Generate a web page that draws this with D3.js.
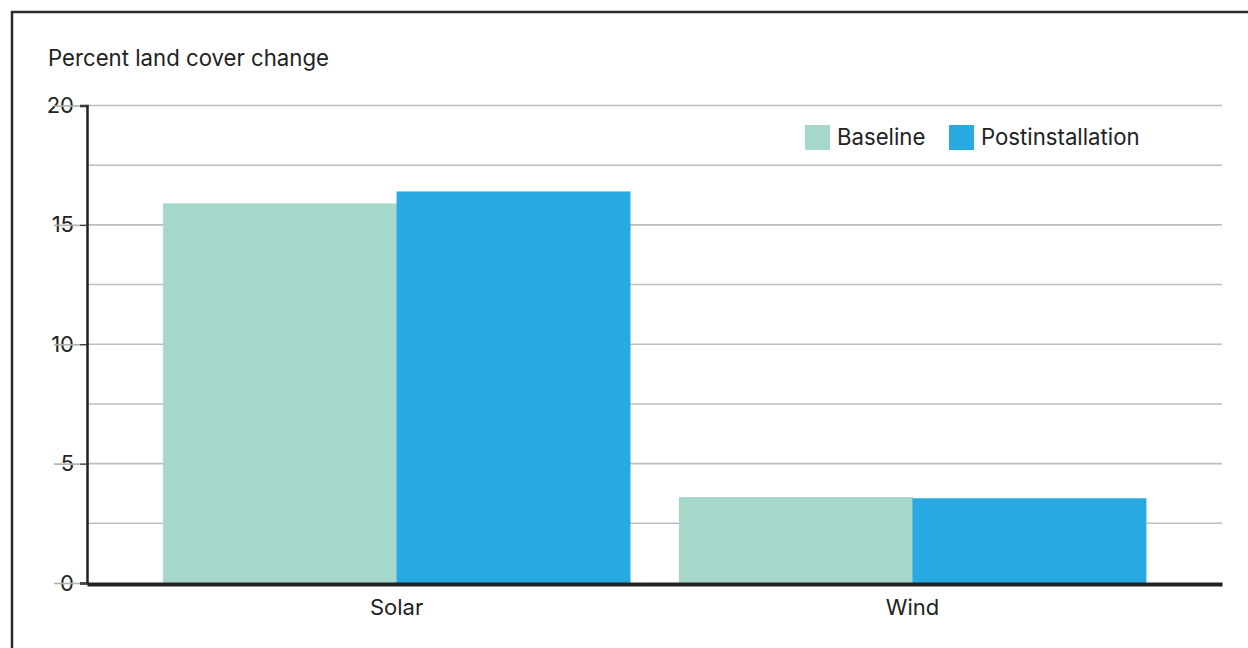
<!DOCTYPE html>
<html>
<head>
<meta charset="utf-8">
<script src="https://cdn.jsdelivr.net/npm/d3@7"></script>
<style>
  html, body { margin: 0; padding: 0; background: #fff; }
  svg { display: block; }
  text { font-family: Inter, "Liberation Sans", Arial, sans-serif; fill: #222; }
</style>
</head>
<body>
<svg id="chart" width="1248" height="648"></svg>
<script>
const categories = ["Solar", "Wind"];
const seriesNames = ["Baseline", "Postinstallation"];
const baselineValues = [15.9, 3.6];
const postValues = [16.4, 3.55];
const yTicks = [0, 5, 10, 15, 20];
const yGridTicks = [0, 2.5, 5, 7.5, 10, 12.5, 15, 17.5, 20];
const yTitle = "Percent land cover change";
const colors = ["#a5d7cb", "#29a9e1"];

(function () {
const svg = d3.select("#chart");
const W = 1248, H = 648;

// frame
svg.append("rect")
  .attr("x", 12).attr("y", 12)
  .attr("width", W).attr("height", H)
  .attr("fill", "none").attr("stroke", "#2b2b2b").attr("stroke-width", 2.5);

const mLeft = 87, mRight = 1222, mTop = 105.5, mBottom = 583;

const x = d3.scaleBand().domain(categories).range([mLeft, mRight])
  .paddingInner(0.095).paddingOuter(0.1475);
const xs = d3.scaleBand().domain(seriesNames).range([0, x.bandwidth()]).padding(0);
const y = d3.scaleLinear().domain([0, 20]).range([mBottom, mTop]);

// gridlines
svg.append("g").selectAll("line").data(yGridTicks.filter(d => d > 0)).join("line")
  .attr("x1", mLeft).attr("x2", mRight)
  .attr("y1", d => y(d)).attr("y2", d => y(d))
  .attr("stroke", "#bdbdbd").attr("stroke-width", 1.6);

// bars
const data = categories.map((c, i) => ({cat: c, vals: [baselineValues[i], postValues[i]]}));
const groups = svg.append("g").selectAll("g").data(data).join("g")
  .attr("transform", d => `translate(${x(d.cat)},0)`);
groups.selectAll("rect").data(d => d.vals.map((v, j) => ({name: seriesNames[j], v, j}))).join("rect")
  .attr("x", d => xs(d.name))
  .attr("width", xs.bandwidth() + 0.5)
  .attr("y", d => y(d.v))
  .attr("height", d => y(0) - y(d.v))
  .attr("fill", d => colors[d.j]);

// y axis
const yAxis = d3.axisLeft(y).tickValues(yTicks).tickSize(7).tickPadding(6).tickFormat(d3.format("d"));
const ya = svg.append("g").attr("transform", `translate(${mLeft},0)`).call(yAxis);
ya.select(".domain").attr("stroke", "#222").attr("stroke-width", 2.5);
ya.selectAll(".tick line").attr("stroke", "#444").attr("stroke-width", 1.5);
ya.selectAll(".tick text").attr("font-size", 22).attr("fill", "#222")
  .style("font-family", "Inter, 'Liberation Sans', Arial, sans-serif");
// gray strike line through tick labels
ya.selectAll(".tick").append("line")
  .attr("x1", -33).attr("x2", -7).attr("y1", 0).attr("y2", 0)
  .attr("stroke", "#b0b0b0").attr("stroke-width", 1.6);

// x axis
const xAxis = d3.axisBottom(x).tickSize(0).tickPadding(15);
const xa = svg.append("g").attr("transform", `translate(0,${mBottom + 1})`).call(xAxis);
xa.select(".domain").attr("stroke", "#222").attr("stroke-width", 4);
xa.selectAll(".tick text").attr("font-size", 22).attr("fill", "#222")
  .style("font-family", "Inter, 'Liberation Sans', Arial, sans-serif");

// title
svg.append("text").attr("x", 48).attr("y", 66).attr("font-size", 22.2).text(yTitle);

// legend
const legend = svg.append("g");
const legendX = [805, 949];
seriesNames.forEach((n, i) => {
  legend.append("rect").attr("x", legendX[i]).attr("y", 125).attr("width", 25).attr("height", 25).attr("fill", colors[i]);
  legend.append("text").attr("x", legendX[i] + 32).attr("y", 145).attr("font-size", 22.2).text(n);
});
})();
</script>
</body>
</html>
